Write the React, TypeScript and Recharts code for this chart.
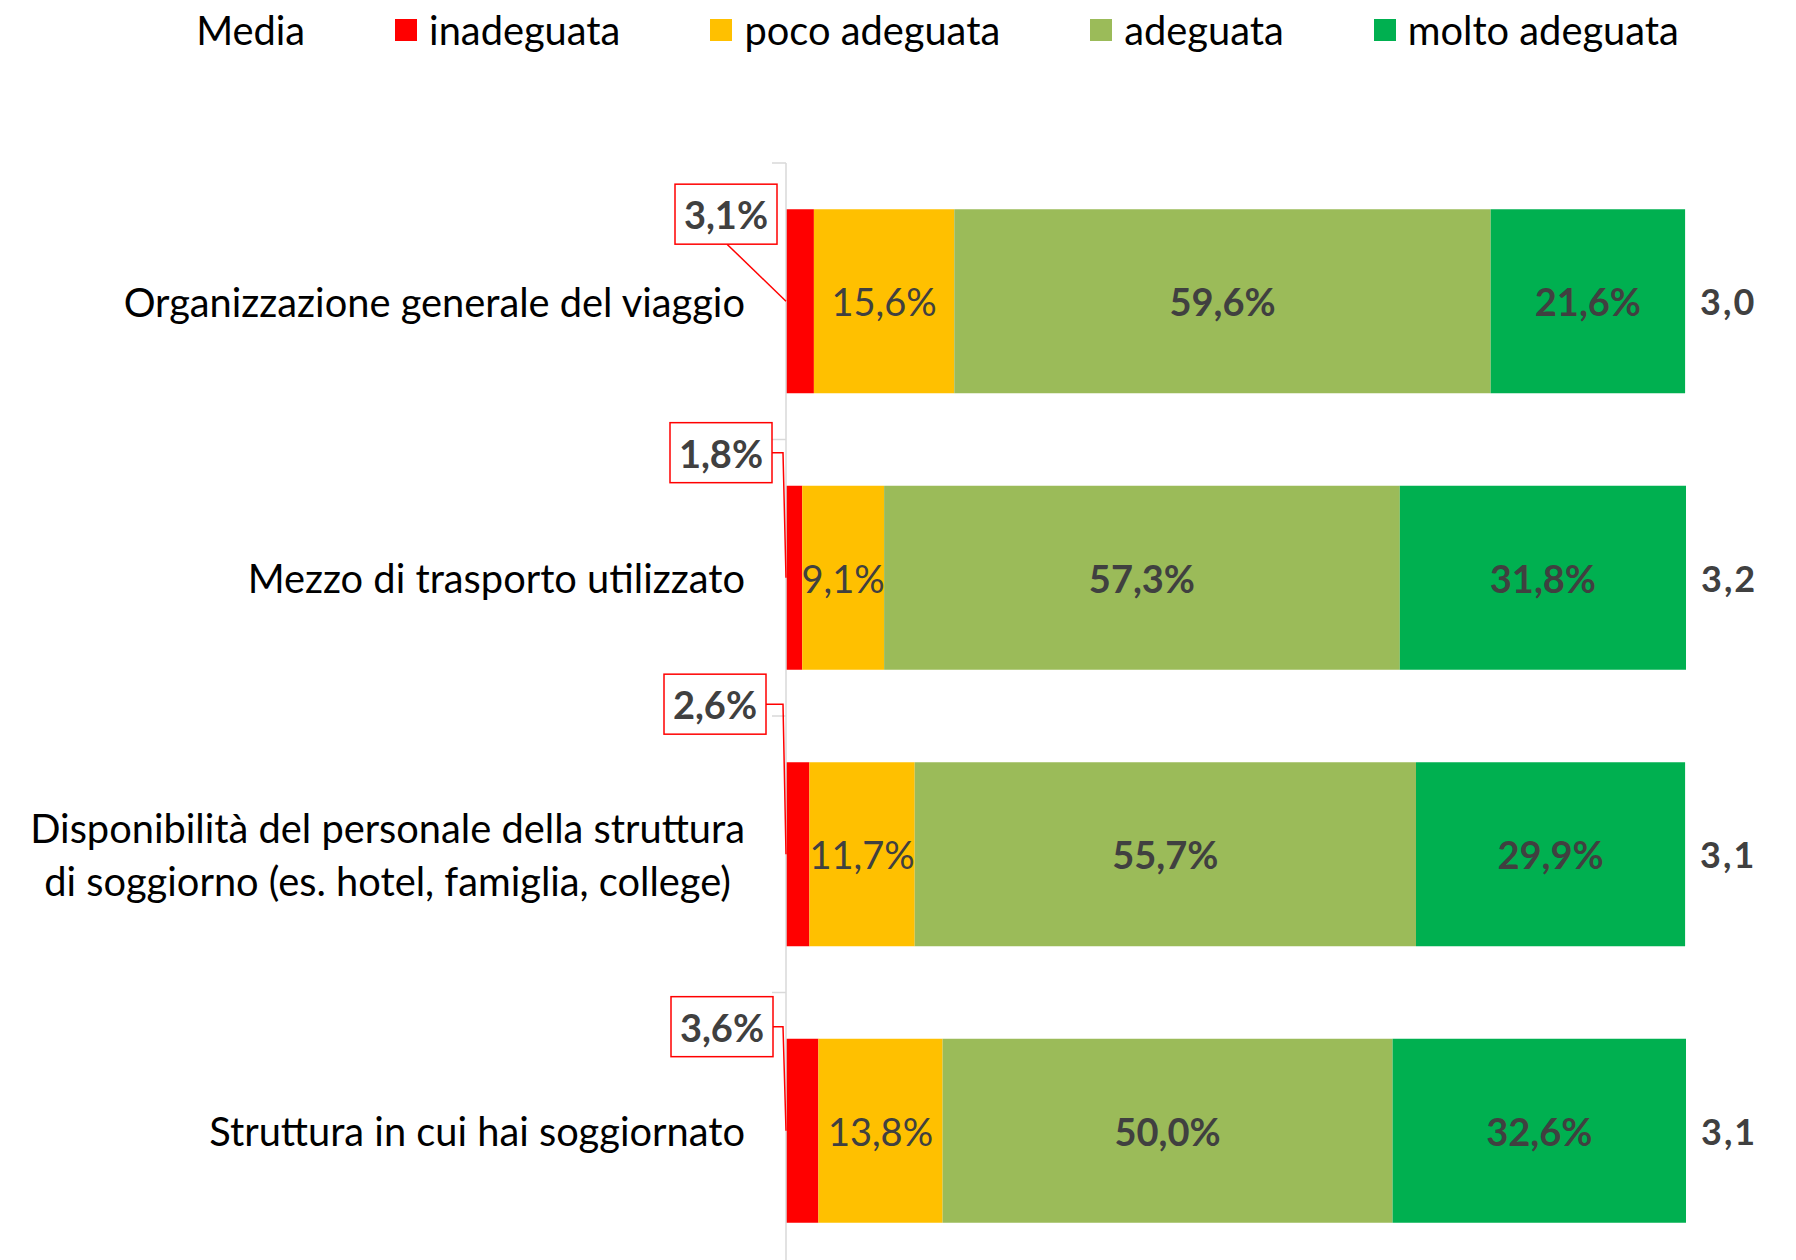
import React, { useLayoutEffect, useRef, useState } from 'react';
import { BarChart, Bar, XAxis, YAxis, LabelList, Legend } from 'recharts';

// ---- data ----
const categories = [
  'Organizzazione generale del viaggio',
  'Mezzo di trasporto utilizzato',
  'Disponibilità del personale della struttura\ndi soggiorno (es. hotel, famiglia, college)',
  'Struttura in cui hai soggiornato',
];
const inadeguata = [3.1, 1.8, 2.6, 3.6];
const pocoAdeguata = [15.6, 9.1, 11.7, 13.8];
const adeguata = [59.6, 57.3, 55.7, 50.0];
const moltoAdeguata = [21.6, 31.8, 29.9, 32.6];
const media = [3.0, 3.2, 3.1, 3.1];
const mediaLabel = 'Media';
const seriesNames = ['inadeguata', 'poco adeguata', 'adeguata', 'molto adeguata'];

// ---- styles ----
const COLORS = ['#FF0000', '#FFC000', '#9BBB59', '#00B050'];
const FONT = 'Lato, "Open Sans", sans-serif';
const FS = 38;
const CAT_FS = 39.8;
const LABEL_COLOR = '#404040';
// callout box placement relative to the bar (dx from bar left, dy from bar top) and leader style
const calloutPlacement = [
  { dx: -60, dy: 5, leader: 'diag' },
  { dx: -65, dy: -33, leader: 'elbow' },
  { dx: -71, dy: -58, leader: 'elbow' },
  { dx: -64, dy: -12, leader: 'elbow' },
];

const data = categories.map((name, i) => ({
  name,
  inadeguata: inadeguata[i],
  poco: pocoAdeguata[i],
  adeguata: adeguata[i],
  molto: moltoAdeguata[i],
  media: media[i],
}));

const fmtPct = (v: number) => v.toFixed(1).replace('.', ',') + '%';
const fmtMedia = (v: number) => v.toFixed(1).replace('.', ',');

function getBox(props: any) {
  const vb = props.viewBox || props;
  return {
    x: Number(vb.x ?? props.x),
    y: Number(vb.y ?? props.y),
    width: Number(vb.width ?? props.width),
    height: Number(vb.height ?? props.height),
  };
}

function CategoryTick(props: any) {
  const { x, y, payload } = props;
  const lines = String(payload.value).split('\n');
  const refs = useRef<(SVGTextElement | null)[]>([]);
  const [maxW, setMaxW] = useState(0);
  useLayoutEffect(() => {
    let m = 0;
    refs.current.forEach((r) => {
      if (r) m = Math.max(m, r.getComputedTextLength());
    });
    if (Math.abs(m - maxW) > 0.5) setMaxW(m);
  });
  const lh = 53;
  const cx = x - maxW / 2;
  const half = payload.offset ?? 138.25;
  const axisX = x + 41;
  return (
    <g>
      <line x1={axisX - 14} x2={axisX} y1={y - half} y2={y - half} stroke="#D9D9D9" strokeWidth={1.5} />
      {lines.map((ln, i) => (
        <text
          key={i}
          ref={(el) => (refs.current[i] = el)}
          x={cx}
          y={y + (i - (lines.length - 1) / 2) * lh}
          textAnchor="middle"
          dominantBaseline="central"
          fontFamily={FONT}
          fontSize={CAT_FS}
          fill="#000"
        >
          {ln}
        </text>
      ))}
    </g>
  );
}

const innerLabel = (bold: boolean) => (props: any) => {
  const { x, y, width, height } = getBox(props);
  return (
    <text
      x={x + width / 2}
      y={y + height / 2}
      textAnchor="middle"
      dominantBaseline="central"
      fontFamily={FONT}
      fontSize={FS}
      fontWeight={bold ? 700 : 400}
      fill={LABEL_COLOR}
    >
      {fmtPct(Number(props.value))}
    </text>
  );
};

const calloutLabel = (props: any) => {
  const { x, y, height } = getBox(props);
  const idx = Number(props.index ?? 0);
  const p = calloutPlacement[idx] || calloutPlacement[0];
  const bw = 102;
  const bh = 60;
  const cx = x + p.dx;
  const cy = y + p.dy;
  const midY = y + height / 2;
  let pts: string;
  if (p.leader === 'diag') {
    pts = `${cx + 1},${cy + bh / 2} ${x},${midY}`;
  } else {
    pts = `${cx + bw / 2},${cy} ${x - 3},${cy} ${x},${midY}`;
  }
  return (
    <g>
      <polyline points={pts} fill="none" stroke="#FF0000" strokeWidth={1.5} />
      <rect x={cx - bw / 2} y={cy - bh / 2} width={bw} height={bh} fill="#fff" stroke="#FF0000" strokeWidth={1.5} />
      <text
        x={cx}
        y={cy}
        textAnchor="middle"
        dominantBaseline="central"
        fontFamily={FONT}
        fontSize={FS}
        fontWeight={700}
        fill={LABEL_COLOR}
      >
        {fmtPct(Number(props.value))}
      </text>
    </g>
  );
};

const mediaText = (props: any) => {
  const { x, y, width, height } = getBox(props);
  return (
    <text
      x={x + width + 15}
      y={y + height / 2}
      textAnchor="start"
      dominantBaseline="central"
      fontFamily={FONT}
      fontSize={36}
      fontWeight={700}
      letterSpacing={2}
      fill={LABEL_COLOR}
    >
      {fmtMedia(Number(props.value))}
    </text>
  );
};

const LegendContent = () => (
  <div
    style={{
      display: 'flex',
      justifyContent: 'center',
      alignItems: 'center',
      gap: 90,
      fontFamily: FONT,
      fontSize: CAT_FS,
      color: '#000',
      lineHeight: '42px',
      whiteSpace: 'nowrap',
    }}
  >
    <span>{mediaLabel}</span>
    {seriesNames.map((n, i) => (
      <span key={n} style={{ display: 'flex', alignItems: 'center' }}>
        <span style={{ display: 'inline-block', width: 22, height: 22, background: COLORS[i], marginRight: 12 }} />
        {n}
      </span>
    ))}
  </div>
);

export default function App() {
  return (
    <div
      style={{
        position: 'absolute',
        left: 0,
        top: 0,
        width: 1796,
        height: 1260,
        overflow: 'hidden',
        background: '#fff',
      }}
    >
      <BarChart
        width={1796}
        height={1280}
        data={data}
        layout="vertical"
        margin={{ top: 163, right: 110, bottom: 11, left: 0 }}
        barCategoryGap="16.7%"
      >
        <XAxis type="number" domain={[0, 100]} hide />
        <YAxis
          type="category"
          dataKey="name"
          width={786}
          tickLine={false}
          tickSize={0}
          tickMargin={41}
          interval={0}
          axisLine={{ stroke: '#D9D9D9', strokeWidth: 1.5 }}
          tick={<CategoryTick />}
        />
        <Legend
          verticalAlign="middle"
          align="center"
          layout="horizontal"
          wrapperStyle={{ top: 9, left: 0, width: 1875, height: 42 }}
          content={() => <LegendContent />}
        />
        <Bar dataKey="inadeguata" name={seriesNames[0]} stackId="s" fill={COLORS[0]} isAnimationActive={false}>
          <LabelList dataKey="inadeguata" content={calloutLabel} />
        </Bar>
        <Bar dataKey="poco" name={seriesNames[1]} stackId="s" fill={COLORS[1]} isAnimationActive={false}>
          <LabelList dataKey="poco" content={innerLabel(false)} />
        </Bar>
        <Bar dataKey="adeguata" name={seriesNames[2]} stackId="s" fill={COLORS[2]} isAnimationActive={false}>
          <LabelList dataKey="adeguata" content={innerLabel(true)} />
        </Bar>
        <Bar dataKey="molto" name={seriesNames[3]} stackId="s" fill={COLORS[3]} isAnimationActive={false}>
          <LabelList dataKey="molto" content={innerLabel(true)} />
          <LabelList dataKey="media" content={mediaText} />
        </Bar>
      </BarChart>
    </div>
  );
}
